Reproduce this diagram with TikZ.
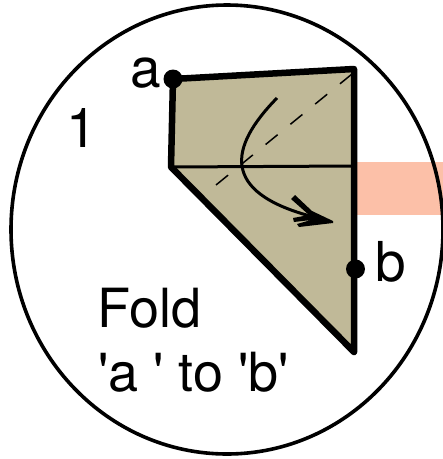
\documentclass[tikz,border=0pt]{standalone}
\usepackage{fontspec}
\setmainfont{TeX Gyre Heros}
\usepackage{xcolor}
\usetikzlibrary{shapes.geometric, positioning}
\definecolor{paper}{HTML}{C0B998}
\definecolor{band}{HTML}{FCC0A8}

\begin{document}
\begin{tikzpicture}[
    x=1pt, y=-1pt,
    dot/.style={circle, fill=black, inner sep=0pt, minimum size=19pt},
    lbl/.style={font=\fontsize{55}{55}\selectfont, inner sep=0pt, anchor=base west},
    txt/.style={font=\fontsize{54}{54}\selectfont, inner sep=0pt, anchor=base west},
    edge/.style={line width=6.5pt, line join=round},
    thin edge/.style={line width=3pt},
    fold/.style={line width=1.5pt, dash pattern=on 15.5pt off 16.5pt}
]
\useasboundingbox (0,0) rectangle (443,459);
\clip (0,0) rectangle (443,459);

% Band behind the circle
\fill[band] (350,162) rectangle (443,215);

% Circle
\node[ellipse, draw, line width=3.6pt, minimum width=432pt, minimum height=449pt, inner sep=0pt] (disc) at (227,229.5) {};

% Paper
\coordinate (a) at (173,79);
\coordinate (top) at (354,69);
\coordinate (tip) at (354,352);
\coordinate (corner) at (171,167);
\coordinate (b) at (355.5,269);
\fill[paper] (a) -- (top) -- (tip) -- (corner) -- cycle;

% Creases
\coordinate (mid) at (354,166);
\coordinate (dashstart) at (352,74);
\coordinate (dashend) at (216,185);
\draw[thin edge] (corner) -- (mid);
\draw[fold] (dashstart) -- (dashend);
\draw[edge] (a) -- (top) -- (tip) -- (corner) -- cycle;

% Arrow
\coordinate (start) at (277,98);
\coordinate (end) at (310,216);
\draw[line width=3pt] (start) .. controls (228,148) and (222,192) .. (end);
\fill (291,199) -- (295,195) -- (312,211) -- (333,221) -- (333,223) -- (299,227) -- (297,224)
      -- (311,220) -- (294,222) -- (293,218) -- (309,215) -- cycle;

% Points
\node[dot] (pa) at (a) {};
\node[dot] (pb) at (b) {};

% Labels
\node[lbl] (la) at (130,87) {a};
\node[lbl] (lb) at (375,281) {b};
\node[lbl] (one) at (66,147) {1};
\node[txt] (fold1) at (97,327) {Fold};
\node[txt] (fold2) at (98,391) {\textquotesingle a \textquotesingle{} to \textquotesingle b\textquotesingle};

\end{tikzpicture}
\end{document}
